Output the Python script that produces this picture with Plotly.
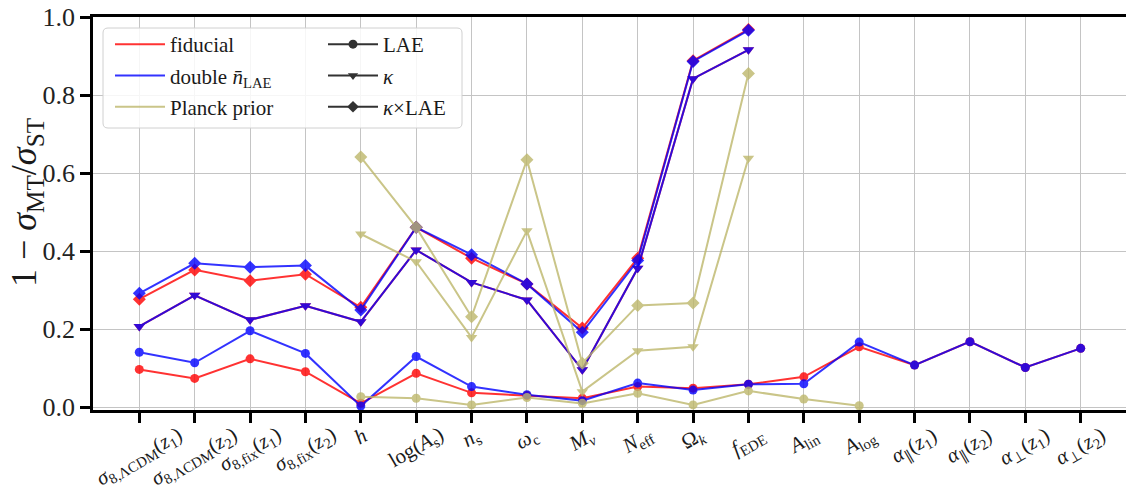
import plotly.graph_objects as go

# ---------------- data ----------------
params = [
    "<i>σ</i><sub>8,ΛCDM</sub>(<i>z</i><sub>1</sub>)",
    "<i>σ</i><sub>8,ΛCDM</sub>(<i>z</i><sub>2</sub>)",
    "<i>σ</i><sub>8,fix</sub>(<i>z</i><sub>1</sub>)",
    "<i>σ</i><sub>8,fix</sub>(<i>z</i><sub>2</sub>)",
    "<i>h</i>",
    "log(<i>A</i><sub>s</sub>)",
    "<i>n</i><sub>s</sub>",
    "<i>ω</i><sub>c</sub>",
    "<i>M</i><sub><i>ν</i></sub>",
    "<i>N</i><sub>eff</sub>",
    "Ω<sub><i>k</i></sub>",
    "<i>f</i><sub>EDE</sub>",
    "<i>A</i><sub>lin</sub>",
    "<i>A</i><sub>log</sub>",
    "<i>α</i><sub>∥</sub>(<i>z</i><sub>1</sub>)",
    "<i>α</i><sub>∥</sub>(<i>z</i><sub>2</sub>)",
    "<i>α</i><sub>⊥</sub>(<i>z</i><sub>1</sub>)",
    "<i>α</i><sub>⊥</sub>(<i>z</i><sub>2</sub>)",
]
y_ticks = [0.0, 0.2, 0.4, 0.6, 0.8, 1.0]
y_tick_labels = ["0.0", "0.2", "0.4", "0.6", "0.8", "1.0"]

# fiducial (red)
fid_lae = [0.097, 0.074, 0.124, 0.091, 0.010, 0.087, 0.037, 0.030, 0.023,
           0.053, 0.049, 0.059, 0.078, 0.155, 0.108, 0.168, 0.102, 0.151]
fid_kappa = [0.207, 0.287, 0.224, 0.260, 0.219, 0.403, 0.320, 0.275, 0.096,
             0.356, 0.842, 0.916]
fid_cross = [0.277, 0.352, 0.324, 0.341, 0.256, 0.461, 0.382, 0.316, 0.203,
             0.382, 0.888, 0.968]

# double n_LAE (blue)
dbl_lae = [0.141, 0.114, 0.196, 0.138, 0.003, 0.130, 0.053, 0.032, 0.017,
           0.062, 0.044, 0.059, 0.060, 0.167, 0.108, 0.168, 0.102, 0.151]
dbl_kappa = [0.207, 0.287, 0.224, 0.260, 0.219, 0.403, 0.320, 0.275, 0.096,
             0.356, 0.842, 0.916]
dbl_cross = [0.292, 0.369, 0.359, 0.363, 0.249, 0.461, 0.391, 0.316, 0.192,
             0.376, 0.886, 0.966]

# Planck prior (khaki), starting at h (index 4)
planck_start = 4
pl_lae = [0.027, 0.023, 0.006, 0.025, 0.010, 0.036, 0.006, 0.042, 0.021, 0.004]
pl_kappa = [0.444, 0.373, 0.179, 0.452, 0.040, 0.145, 0.155, 0.638]
pl_cross = [0.641, 0.461, 0.232, 0.634, 0.113, 0.261, 0.267, 0.855]

# ---------------- style ----------------
RED = "rgb(255,0,0)"
BLUE = "rgb(0,0,255)"
KHAKI = "rgb(189,183,107)"
FONT = "Liberation Serif"
TXT = "#1a1a1a"

fig = go.Figure()


def add_series(vals, start, color, symbol, size):
    xs = list(range(start, start + len(vals)))
    fig.add_trace(go.Scatter(
        x=xs, y=vals, mode="lines+markers",
        line=dict(color=color, width=2),
        marker=dict(symbol=symbol, size=size, color=color, line=dict(width=0)),
        opacity=0.8, showlegend=False, hoverinfo="skip"))


for col, lae, kap, cro, st in [
    (RED, fid_lae, fid_kappa, fid_cross, 0),
    (BLUE, dbl_lae, dbl_kappa, dbl_cross, 0),
    (KHAKI, pl_lae, pl_kappa, pl_cross, planck_start),
]:
    add_series(lae, st, col, "circle", 9)
    add_series(kap, st, col, "triangle-down", 10)
    add_series(cro, st, col, "diamond", 10)

# legend entries (column 1: colours, column 2: marker types)
leg1 = [("fiducial", RED), ("double <i>n̄</i><sub>LAE</sub>", BLUE), ("Planck prior", KHAKI)]
for i, (name, col) in enumerate(leg1):
    fig.add_trace(go.Scatter(
        x=[None], y=[None], mode="lines", name=name,
        line=dict(color=col, width=2), opacity=0.8,
        legend="legend", legendgroup="a%d" % i))
leg2 = [("LAE", "circle"), ("<i>κ</i>", "triangle-down"), ("<i>κ</i>×LAE", "diamond")]
for i, (name, sym) in enumerate(leg2):
    fig.add_trace(go.Scatter(
        x=[None], y=[None], mode="lines+markers", name=name,
        line=dict(color="black", width=2),
        marker=dict(symbol=sym, size=9, color="black"), opacity=0.8,
        legend="legend2", legendgroup="b%d" % i))

# ---------------- layout ----------------
W, H = 1126, 494
L, R, T, B = 93, 0, 17, 84
pw = W - L - R
ph = H - T - B


def px2paper_x(px):
    return (px - L) / pw


def px2paper_y(py):
    return (H - B - py) / ph


leg_common = dict(
    font=dict(family=FONT, size=21, color=TXT),
    bgcolor="rgba(0,0,0,0)", borderwidth=0,
    traceorder="grouped", tracegroupgap=1,
    xanchor="left", yanchor="top", itemwidth=50,
)

fig.update_layout(
    width=W, height=H,
    margin=dict(l=L, r=R, t=T, b=B, pad=0),
    paper_bgcolor="white", plot_bgcolor="white",
    font=dict(family=FONT, color=TXT),
    legend=dict(x=px2paper_x(110), y=px2paper_y(24), **leg_common),
    legend2=dict(x=px2paper_x(323), y=px2paper_y(24), **leg_common),
    xaxis=dict(
        range=[-0.836, 17.818], tickmode="array",
        tickvals=list(range(len(params))),
        showticklabels=False,
        ticks="outside", ticklen=10, tickwidth=2.5, tickcolor="black",
        showline=True, linecolor="black", linewidth=2.5, mirror=True,
        showgrid=True, gridcolor="#c4c4c4", gridwidth=1, zeroline=False,
    ),
    yaxis=dict(
        range=[-0.007, 1.0], tickmode="array",
        tickvals=y_ticks, ticktext=y_tick_labels,
        tickfont=dict(family=FONT, size=26, color="#222"),
        ticks="outside", ticklen=10, tickwidth=2.5, tickcolor="black",
        showline=True, linecolor="black", linewidth=2.5, mirror=False,
        showgrid=True, gridcolor="#c4c4c4", gridwidth=1, zeroline=False,
    ),
)

# legend frame (rounded rectangle)
x0, x1 = px2paper_x(103), px2paper_x(462)
y0, y1 = px2paper_y(128), px2paper_y(28)
rx, ry = 5 / pw, 5 / ph
path = (f"M{x0+rx},{y0} L{x1-rx},{y0} Q{x1},{y0} {x1},{y0+ry} "
        f"L{x1},{y1-ry} Q{x1},{y1} {x1-rx},{y1} L{x0+rx},{y1} "
        f"Q{x0},{y1} {x0},{y1-ry} L{x0},{y0+ry} Q{x0},{y0} {x0+rx},{y0} Z")
fig.add_shape(type="path", path=path, xref="paper", yref="paper",
              fillcolor="rgba(255,255,255,0.85)",
              line=dict(color="#d0d0d0", width=1), layer="above")

# x tick labels (rotated, centred under each tick)
for i, lab in enumerate(params):
    fig.add_annotation(
        x=i, xref="x", y=0, yref="paper", yanchor="top", xanchor="center",
        yshift=-11, text=lab, showarrow=False, textangle=-30,
        borderpad=0,
        font=dict(family=FONT, size=21, color=TXT))

# y axis title
fig.add_annotation(
    x=px2paper_x(26), y=px2paper_y(203), xref="paper", yref="paper",
    text="1 − <i>σ</i><sub>MT</sub>/<i>σ</i><sub>ST</sub>",
    textangle=-90, showarrow=False, xanchor="center", yanchor="middle",
    font=dict(family=FONT, size=36, color=TXT))

fig.write_html("out.html",
               config={"displayModeBar": False},
               post_script="document.body.style.margin='0';"
                           "document.body.style.overflow='hidden';")
